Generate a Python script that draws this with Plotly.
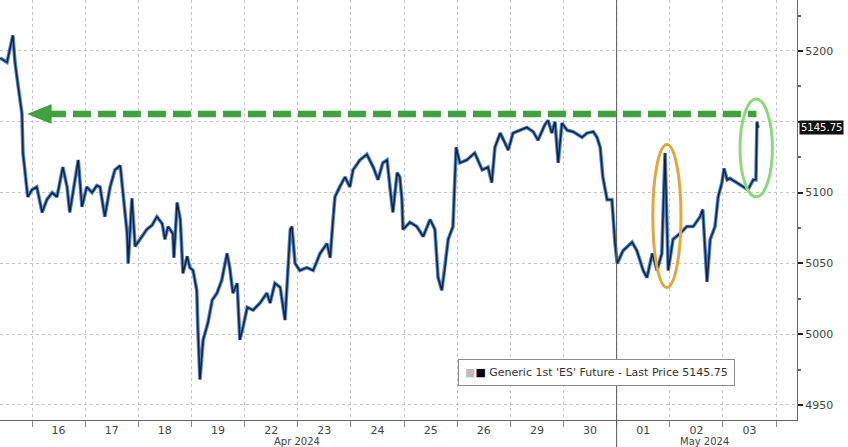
import plotly.graph_objects as go

# trading-day index (0 = 15 Apr, 1 = 16 Apr, ... 14 = 03 May); day i spans [i, i+1]
t = [0.40, 0.53, 0.64, 0.68, 0.74, 0.81, 0.83, 0.87, 0.92, 1.00, 1.09, 1.19, 1.28, 1.38, 1.47,
     1.58, 1.66, 1.71, 1.81, 1.87, 1.94, 2.03, 2.13, 2.22, 2.28, 2.37, 2.47, 2.56, 2.66, 2.71,
     2.79, 2.81, 2.88, 2.94, 3.03, 3.16, 3.26, 3.35, 3.45, 3.50, 3.56, 3.65, 3.67, 3.73, 3.79,
     3.84, 3.92, 3.97, 4.03, 4.10, 4.12, 4.16, 4.22, 4.31, 4.39, 4.48, 4.57, 4.67, 4.72, 4.78,
     4.86, 4.91, 4.97, 5.05, 5.16, 5.29, 5.42, 5.48, 5.57, 5.67, 5.76, 5.82, 5.86, 5.89, 5.95,
     6.04, 6.17, 6.29, 6.42, 6.55, 6.61, 6.66, 6.70, 6.79, 6.89, 6.98, 7.04, 7.17, 7.30, 7.42,
     7.51, 7.60, 7.68, 7.74, 7.79, 7.87, 7.92, 7.96, 7.98, 8.11, 8.24, 8.36, 8.49, 8.58, 8.64,
     8.71, 8.77, 8.83, 8.92, 8.98, 9.05, 9.18, 9.33, 9.47, 9.58, 9.65, 9.71, 9.81, 9.90, 9.96,
     10.05, 10.18, 10.31, 10.43, 10.52, 10.65, 10.71, 10.78, 10.84, 10.90, 10.97, 11.07, 11.18,
     11.35, 11.44, 11.56, 11.63, 11.69, 11.74, 11.82, 11.91, 11.97, 12.01, 12.12, 12.29, 12.38,
     12.50, 12.57, 12.67, 12.76, 12.85, 12.91, 12.97, 13.06, 13.19, 13.32, 13.44, 13.57, 13.62,
     13.70, 13.76, 13.85, 13.91, 13.98, 14.02, 14.08, 14.13, 14.26, 14.38, 14.47, 14.57, 14.62,
     14.64, 14.66]
price = [5195, 5192, 5211, 5192, 5175, 5156, 5128, 5114, 5097, 5102, 5104, 5086, 5095, 5100, 5097,
         5118, 5104, 5086, 5109, 5123, 5090, 5104, 5100, 5105, 5104, 5083, 5104, 5116, 5119, 5100,
         5071, 5050, 5096, 5062, 5067, 5074, 5077, 5083, 5078, 5067, 5076, 5071, 5054, 5093, 5081,
         5043, 5055, 5047, 5045, 5031, 5005, 4968, 4996, 5008, 5024, 5029, 5038, 5057, 5047, 5029,
         5036, 4996, 5005, 5019, 5017, 5022, 5029, 5022, 5036, 5033, 5010, 5049, 5074, 5076, 5050,
         5045, 5047, 5045, 5057, 5064, 5054, 5079, 5097, 5104, 5111, 5104, 5116, 5123, 5127, 5118,
         5109, 5121, 5123, 5102, 5086, 5114, 5111, 5095, 5074, 5079, 5076, 5069, 5081, 5074, 5040,
         5031, 5047, 5067, 5076, 5132, 5121, 5123, 5128, 5116, 5118, 5107, 5132, 5142, 5135, 5130,
         5142, 5144, 5146, 5143, 5137, 5148, 5151, 5142, 5150, 5121, 5149, 5144, 5143,
         5139, 5142, 5143, 5139, 5132, 5111, 5095, 5095, 5064, 5050, 5059, 5065, 5059,
         5045, 5040, 5057, 5045, 5057, 5128, 5045, 5067, 5071, 5076, 5076, 5083, 5088,
         5037, 5067, 5076, 5097, 5107, 5117, 5109, 5110, 5107, 5104, 5102, 5109, 5109,
         5150, 5145.75]

day_centers = [1.5, 2.5, 3.5, 4.5, 5.5, 6.5, 7.5, 8.5, 9.5, 10.5, 11.5, 12.5, 13.5, 14.5]
day_labels = ["16", "17", "18", "19", "22", "23", "24", "25", "26", "29", "30", "01", "02", "03"]
month_labels = ["Apr 2024", "May 2024"]
month_pos = [5.99, 13.66]
y_ticks = [4950, 5000, 5050, 5100, 5150, 5200]
y_tick_text = ["4950", "5000", "5050", "5100", "", "5200"]  # 5150 hidden behind the price tag
last_price = 5145.75
arrow_level = 5155.5

FONT = "DejaVu Sans"
GREEN = "#3fa23f"

fig = go.Figure()
fig.add_trace(go.Scatter(x=t, y=price, mode="lines",
                         line=dict(color="#4d86cf", width=3.6), hoverinfo="skip"))
fig.add_trace(go.Scatter(x=t, y=price, mode="lines",
                         line=dict(color="#15213a", width=1.5), hoverinfo="skip"))

shapes = []
# green dashed level line and arrow head
shapes.append(dict(type="line", xref="x", yref="y", x0=1.30, x1=14.63,
                   y0=arrow_level, y1=arrow_level,
                   line=dict(color=GREEN, width=6.5, dash="18px,7px")))
shapes.append(dict(type="path", xref="x", yref="y",
                   path=f"M 0.93,{arrow_level} L 1.36,{arrow_level + 6.5} L 1.36,{arrow_level - 6.5} Z",
                   fillcolor=GREEN, line=dict(color=GREEN, width=1)))
# ellipses
shapes.append(dict(type="circle", xref="x", yref="y", x0=12.68, x1=13.21, y0=5033, y1=5134,
                   line=dict(color="#e3a63a", width=3)))
shapes.append(dict(type="circle", xref="x", yref="y", x0=14.32, x1=14.93, y0=5097, y1=5166,
                   line=dict(color="#8ada7a", width=3)))
# month separator
shapes.append(dict(type="line", xref="x", yref="paper", x0=12, x1=12, y0=-0.07, y1=1,
                   line=dict(color="#555555", width=1)))

annotations = []
for lab, pos in zip(month_labels, month_pos):
    annotations.append(dict(x=pos, y=0, xref="x", yref="paper", yshift=-21, text=lab,
                            showarrow=False, yanchor="middle",
                            font=dict(family=FONT, size=10, color="#444444")))
annotations.append(dict(x=1, y=last_price, xref="paper", yref="y", xanchor="left", xshift=2,
                        text=f"{last_price:.2f}", showarrow=False, bgcolor="#111111",
                        borderpad=1, font=dict(family=FONT, size=10, color="white")))
annotations.append(dict(x=0.749, y=0.114, xref="paper", yref="paper", xanchor="center",
                        yanchor="middle", showarrow=False,
                        text="<span style='color:#bdbdbd'>■</span><span style='color:#000'>■</span> "
                             f"Generic 1st 'ES' Future - Last Price {last_price:.2f}",
                        bgcolor="white", bordercolor="#8a8a8a", borderwidth=1, borderpad=6,
                        font=dict(family=FONT, size=11, color="#333333")))

fig.update_layout(
    width=848, height=447,
    margin=dict(l=0, r=51, t=0, b=27),
    paper_bgcolor="white", plot_bgcolor="white",
    showlegend=False,
    shapes=shapes, annotations=annotations,
    font=dict(family=FONT, size=11, color="#444444"),
    xaxis=dict(range=[0.398, 15.393], tickmode="array", tickvals=day_centers, ticktext=day_labels,
               showgrid=False, zeroline=False, ticks="", showline=True, linecolor="#666666",
               tickfont=dict(family=FONT, size=11, color="#444444"),
               minor=dict(tickmode="linear", tick0=0, dtick=1, showgrid=True,
                          gridcolor="#c4c4c4", griddash="dot", gridwidth=1,
                          ticks="outside", ticklen=6, tickcolor="#888888")),
    yaxis=dict(range=[4939.4, 5236], side="right", tickmode="array", tickvals=y_ticks,
               ticktext=y_tick_text,
               showgrid=True, gridcolor="#c4c4c4", griddash="dot", gridwidth=1,
               zeroline=False, showline=True, linecolor="#666666",
               ticks="outside", ticklen=5, tickwidth=2, tickcolor="#222222",
               tickfont=dict(family=FONT, size=11, color="#444444"),
               minor=dict(tickmode="linear", tick0=4950, dtick=25, ticks="outside",
                          ticklen=3, tickcolor="#666666", showgrid=False)),
)

fig.write_html("out.html", config={"displayModeBar": False},
               post_script="document.body.style.margin='0';")
